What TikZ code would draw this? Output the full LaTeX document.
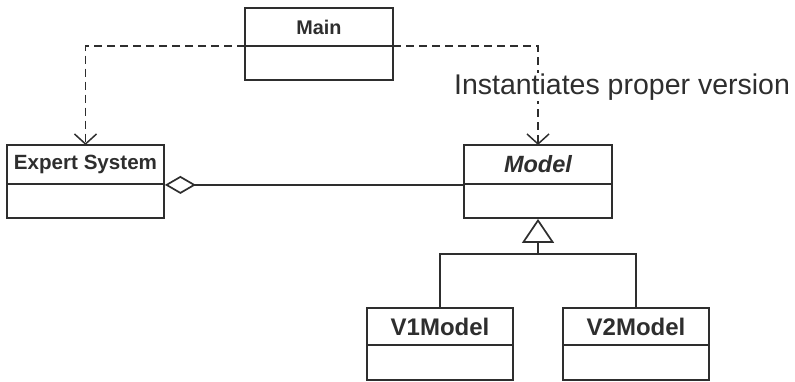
\documentclass[tikz,border=0pt]{standalone}
\usepackage{fontspec}
\setmainfont{Liberation Sans}
\usetikzlibrary{arrows.meta}
\definecolor{ink}{HTML}{2E2E2E}
\begin{document}
\begin{tikzpicture}[x=1pt,y=-1pt,
  cls/.style={draw=ink, line width=1.8pt, inner sep=0pt, text=ink, fill=white},
  ctitle/.style={cls, font=\bfseries},
  dashline/.style={draw=ink, line width=1.5pt, dash pattern=on 8pt off 5pt},
  solidline/.style={draw=ink, line width=1.7pt},
  openv/.style={-{Straight Barb[length=10pt,width=22pt,line width=1.5pt]}},
  agg/.style={{Diamond[open,fill=white,length=31pt,width=18pt,line width=1.7pt]}-},
  gen/.style={{Triangle[open,fill=white,length=24pt,width=32pt,line width=1.7pt]}-}
]
\useasboundingbox (0,0) rectangle (795,381);
% dashed dependencies (drawn first, boxes cover)
\coordinate (mL) at (245,46);
\coordinate (mR) at (393,46);
\draw[dashline,openv] (mL) -| (85.5,145);
\draw[dashline,openv] (mR) -| (538,145);
% label
\node[fill=white, inner sep=1pt, text=ink, font=\fontsize{28.5}{32}\selectfont] (lbl) at (622,87) {Instantiates proper version};
% Main
\node[ctitle, minimum width=148pt, minimum height=38pt, font=\bfseries\fontsize{19.8}{22}\selectfont] (mainT) at (319,27) {Main};
\node[cls, minimum width=148pt, minimum height=34pt] (mainB) at (319,63) {};
% Expert System
\node[ctitle, minimum width=157pt, minimum height=39pt, font=\bfseries\fontsize{20.6}{24}\selectfont] (expT) at (85.5,164.5) {Expert System};
\node[cls, minimum width=157pt, minimum height=34pt] (expB) at (85.5,201) {};
% Model
\node[ctitle, minimum width=148pt, minimum height=39pt, font=\bfseries\itshape\fontsize{23.5}{26}\selectfont] (modT) at (538,164.5) {Model};
\node[cls, minimum width=148pt, minimum height=34pt] (modB) at (538,201) {};
% V1Model
\node[ctitle, minimum width=146pt, minimum height=37pt, font=\bfseries\fontsize{24}{27}\selectfont] (v1T) at (440,326.5) {V1Model};
\node[cls, minimum width=146pt, minimum height=35pt] (v1B) at (440,362.5) {};
% V2Model
\node[ctitle, minimum width=146pt, minimum height=37pt, font=\bfseries\fontsize{24}{27}\selectfont] (v2T) at (636,326.5) {V2Model};
\node[cls, minimum width=146pt, minimum height=35pt] (v2B) at (636,362.5) {};
% aggregation
\draw[solidline,agg] (expT.south east) -- (modT.south west);
% generalization
\coordinate (join) at (538,254);
\draw[solidline,gen] (modB.south) -- (join);
\draw[solidline] (v1T.north) |- (join) -| (v2T.north);
\end{tikzpicture}
\end{document}
